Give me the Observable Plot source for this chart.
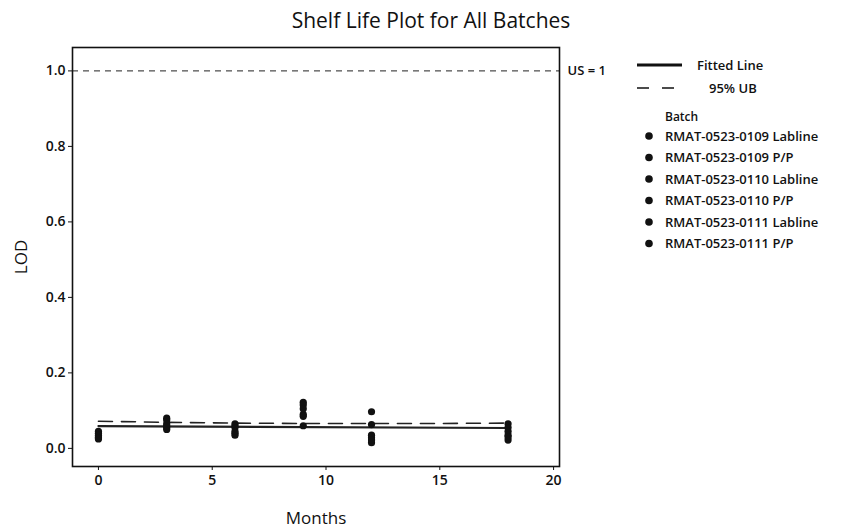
<!DOCTYPE html>
<html>
<head>
<meta charset="utf-8">
<script src="https://cdn.jsdelivr.net/npm/d3@7"></script>
<script src="https://cdn.jsdelivr.net/npm/@observablehq/plot@0.6"></script>
<style>
  html, body { margin: 0; padding: 0; background: #fff; }
  #wrap { position: relative; width: 857px; height: 527px; overflow: hidden; font-family: "Open Sans", "Noto Sans", sans-serif; }
  #title { position: absolute; left: 0; top: 6px; width: 862px; text-align: center; font-size: 21px; font-weight: 500; color: #111; }
  #chart { position: absolute; left: 0; top: 0; }
  #legend { position: absolute; left: 0; top: 0; }
</style>
</head>
<body>
<div id="wrap">
  <div id="chart"></div>
  <div id="title">Shelf Life Plot for All Batches</div>
  <svg id="legend" width="857" height="527"></svg>
</div>
<script>
// ---- data ----
const months = [0, 3, 6, 9, 12, 18];
const batches = [
  "RMAT-0523-0109 Labline",
  "RMAT-0523-0109 P/P",
  "RMAT-0523-0110 Labline",
  "RMAT-0523-0110 P/P",
  "RMAT-0523-0111 Labline",
  "RMAT-0523-0111 P/P"
];
const lod0109Lab = [0.040, 0.080, 0.065, 0.122, 0.097, 0.065];
const lod0109PP  = [0.030, 0.055, 0.040, 0.090, 0.028, 0.035];
const lod0110Lab = [0.045, 0.065, 0.060, 0.115, 0.063, 0.055];
const lod0110PP  = [0.025, 0.050, 0.035, 0.060, 0.015, 0.022];
const lod0111Lab = [0.035, 0.075, 0.055, 0.105, 0.035, 0.045];
const lod0111PP  = [0.028, 0.060, 0.045, 0.085, 0.022, 0.030];
const fitMonths = [0, 18];
const fitLOD = [0.059, 0.054];
const ubMonths = [0, 3, 6, 9, 12, 15, 18];
const ubLOD = [0.072, 0.069, 0.067, 0.066, 0.066, 0.066, 0.067];
const specLimit = 1;
const xTicks = [0, 5, 10, 15, 20];
const yTicks = [0, 0.2, 0.4, 0.6, 0.8, 1.0];

// ---- build tables ----
const seriesValues = [lod0109Lab, lod0109PP, lod0110Lab, lod0110PP, lod0111Lab, lod0111PP];
const points = [];
batches.forEach((b, i) => months.forEach((m, j) => points.push({batch: b, month: m, lod: seriesValues[i][j]})));
const fit = fitMonths.map((m, i) => ({month: m, lod: fitLOD[i]}));
const ub = ubMonths.map((m, i) => ({month: m, lod: ubLOD[i]}));

const font = "'Open Sans', 'Noto Sans', sans-serif";
const chart = Plot.plot({
  width: 857,
  height: 527,
  marginLeft: 72,
  marginRight: 298,
  marginTop: 47,
  marginBottom: 61,
  style: {fontFamily: font, fontSize: "14px", color: "#111", background: "white"},
  x: {domain: [-1.14, 20.26]},
  y: {domain: [-0.048, 1.062]},
  marks: [
    Plot.ruleY([specLimit], {stroke: "#222", strokeWidth: 1, strokeDasharray: "6,5"}),
    Plot.text([specLimit], {y: d => d, frameAnchor: "right", text: d => "US = " + d, textAnchor: "start", dx: 8, fontSize: 13, fontWeight: 600, fill: "#111"}),
    Plot.line(ub, {x: "month", y: "lod", stroke: "#222", strokeWidth: 1.6, strokeDasharray: "14,9"}),
    Plot.line(fit, {x: "month", y: "lod", stroke: "#222", strokeWidth: 2.2}),
    Plot.dot(points, {x: "month", y: "lod", r: 3.6, fill: "#111", stroke: "none"}),
    Plot.frame({stroke: "#111", strokeWidth: 1.6}),
    Plot.axisX({ticks: xTicks, tickSize: 4, tickPadding: 5, fontWeight: 600, fontSize: 14,
      label: "Months", labelAnchor: "center", labelArrow: "none", labelOffset: 57}),
    Plot.axisY({ticks: yTicks, tickFormat: d3.format(".1f"), tickSize: 4, tickPadding: 3, fontWeight: 600, fontSize: 14,
      label: "LOD", labelAnchor: "center", labelArrow: "none", labelOffset: 58})
  ]
});
document.getElementById("chart").appendChild(chart);
// axis label font size
d3.select(chart).selectAll("g[aria-label='x-axis label'] text, g[aria-label='y-axis label'] text").style("font-size", "17px").style("font-weight", "500");

// ---- legend ----
const lg = d3.select("#legend");
const lfs = "13px";
lg.append("line").attr("x1", 637).attr("x2", 682).attr("y1", 65).attr("y2", 65).attr("stroke", "#111").attr("stroke-width", 3);
lg.append("text").attr("x", 697).attr("y", 65).attr("dy", "0.35em").text("Fitted Line")
  .style("font-family", font).style("font-size", lfs).style("font-weight", 600).attr("fill", "#111");
lg.append("line").attr("x1", 637).attr("x2", 682).attr("y1", 88).attr("y2", 88).attr("stroke", "#111").attr("stroke-width", 1.3).attr("stroke-dasharray", "12,13");
lg.append("text").attr("x", 709).attr("y", 88).attr("dy", "0.35em").text("95% UB")
  .style("font-family", font).style("font-size", lfs).style("font-weight", 600).attr("fill", "#111");
lg.append("text").attr("x", 665).attr("y", 117).attr("dy", "0.35em").text("Batch")
  .style("font-family", font).style("font-size", "12px").style("font-weight", 600).attr("fill", "#111");
batches.forEach((b, i) => {
  const y = 136 + i * 21.5;
  lg.append("circle").attr("cx", 649).attr("cy", y).attr("r", 3.8).attr("fill", "#111");
  lg.append("text").attr("x", 665).attr("y", y).attr("dy", "0.35em").text(b)
    .style("font-family", font).style("font-size", lfs).style("font-weight", 600).attr("fill", "#111");
});
</script>
</body>
</html>
